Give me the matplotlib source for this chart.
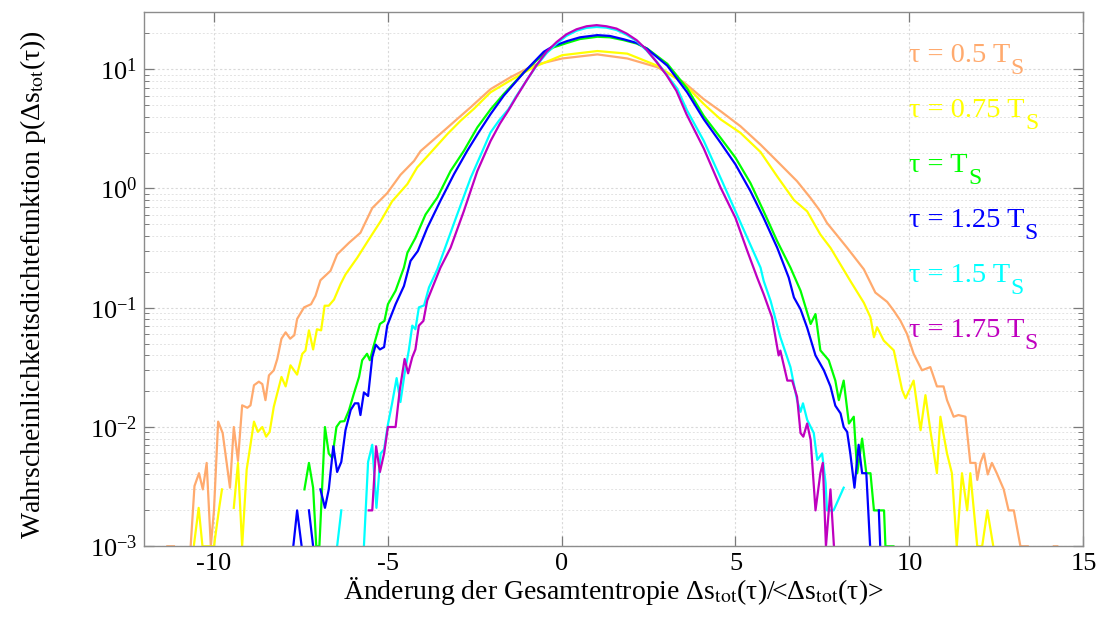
import numpy as np
import matplotlib
matplotlib.use("Agg")
import matplotlib.pyplot as plt
from matplotlib.ticker import LogLocator, NullLocator, FixedLocator
from matplotlib.transforms import blended_transform_factory

plt.rcParams['font.family'] = ['Liberation Serif', 'DejaVu Serif']
plt.rcParams['mathtext.fontset'] = 'stix'
plt.rcParams['axes.unicode_minus'] = False

nan = np.nan

# (normalised entropy change, probability density); nan marks empty bins
tau_050 = [(-11.33, 0.001), (-11.14, 0.001), (-10.9, nan), (-10.66, 0.001), (-10.55, 0.0032),
           (-10.42, 0.0041), (-10.31, 0.0030), (-10.20, 0.0050), (-10.08, 0.001), (-9.99, 0.0020),
           (-9.87, 0.0111), (-9.74, 0.0089), (-9.53, 0.0031), (-9.42, 0.010), (-9.30, 0.0052),
           (-9.18, 0.0152), (-9.03, 0.0145), (-8.94, 0.0152), (-8.84, 0.0224), (-8.70, 0.024),
           (-8.60, 0.0229), (-8.51, 0.0168), (-8.41, 0.0271), (-8.27, 0.0299), (-8.17, 0.0372),
           (-8.05, 0.055), (-7.93, 0.0622), (-7.80, 0.055), (-7.68, 0.0589), (-7.60, 0.0805),
           (-7.40, 0.1007), (-7.20, 0.107), (-7.07, 0.126), (-6.93, 0.17), (-6.64, 0.204),
           (-6.45, 0.28), (-6.11, 0.35), (-5.78, 0.425), (-5.44, 0.685), (-5.01, 0.914),
           (-4.63, 1.30), (-4.24, 1.70), (-4.05, 2.06), (-3.38, 3.05), (-3.00, 3.82),
           (-2.61, 4.8), (-2.04, 6.8), (-1.47, 8.55), (-0.80, 10.8), (0.02, 12.3),
           (1.03, 13.3), (1.89, 12.3), (2.75, 10.4), (3.51, 7.8), (4.09, 5.6),
           (4.57, 4.45), (5.14, 3.33), (5.72, 2.33), (6.20, 1.69), (6.77, 1.15),
           (7.16, 0.83), (7.44, 0.643), (7.63, 0.514), (8.21, 0.318), (8.69, 0.21),
           (9.02, 0.134), (9.36, 0.112), (9.55, 0.0944), (9.74, 0.078), (9.93, 0.0603),
           (10.12, 0.0411), (10.36, 0.0299), (10.60, 0.0318), (10.79, 0.0219), (10.98, 0.0219),
           (11.08, 0.0168), (11.27, 0.0122), (11.41, 0.0126), (11.61, 0.0122), (11.75, 0.0050),
           (11.90, 0.0050), (11.95, 0.0036), (12.04, 0.0050), (12.14, 0.0060), (12.25, 0.0040),
           (12.37, 0.0050), (12.51, 0.0041), (12.71, 0.0030), (12.85, 0.0020), (13.00, 0.0020),
           (13.19, 0.001), (13.40, 0.001), (13.8, nan), (14.15, 0.001), (14.25, 0.001)]

tau_075 = [(-10.57, 0.001), (-10.43, 0.0021), (-10.32, 0.001), (-10.15, 0.001), (-9.99, 0.001),
           (-9.84, 0.0021), (-9.76, 0.0030), (-9.6, nan), (-9.42, 0.0021), (-9.30, 0.0050),
           (-9.18, 0.001), (-9.05, 0.0044), (-8.96, 0.0065), (-8.84, 0.0111), (-8.73, 0.0091),
           (-8.60, 0.010), (-8.49, 0.0083), (-8.39, 0.0091), (-8.27, 0.0148), (-8.05, 0.0263),
           (-7.93, 0.0219), (-7.79, 0.0329), (-7.60, 0.0275), (-7.45, 0.0411), (-7.36, 0.0437),
           (-7.26, 0.0646), (-7.14, 0.0447), (-7.03, 0.066), (-6.91, 0.0646), (-6.81, 0.104),
           (-6.69, 0.104), (-6.54, 0.117), (-6.35, 0.158), (-6.21, 0.19), (-5.87, 0.263),
           (-5.54, 0.373), (-5.20, 0.531), (-4.87, 0.78), (-4.43, 1.09), (-4.15, 1.50),
           (-3.76, 2.0), (-3.28, 2.86), (-2.90, 3.70), (-2.52, 4.65), (-2.04, 6.4),
           (-1.47, 8.05), (-0.80, 10.4), (0.02, 13.1), (1.03, 14.2), (1.89, 13.5),
           (2.75, 10.7), (3.51, 7.6), (4.09, 5.1), (4.57, 3.8), (5.14, 2.93),
           (5.72, 2.02), (6.20, 1.26), (6.68, 0.80), (7.06, 0.643), (7.44, 0.411),
           (7.73, 0.318), (8.30, 0.168), (8.69, 0.11), (8.88, 0.083), (8.98, 0.0566),
           (9.07, 0.0686), (9.26, 0.0531), (9.55, 0.0439), (9.79, 0.0204), (9.89, 0.0174),
           (10.12, 0.0245), (10.32, 0.0094), (10.46, 0.0185), (10.60, 0.0094), (10.79, 0.0041),
           (10.89, 0.0122), (11.08, 0.0060), (11.22, 0.0041), (11.36, 0.001), (11.51, 0.0041),
           (11.66, 0.0020), (11.75, 0.0041), (11.95, 0.001), (12.09, 0.001), (12.24, 0.0020),
           (12.41, 0.001)]

tau_100 = [(-7.39, 0.0030), (-7.26, 0.0050), (-7.14, 0.0031), (-7.05, 0.001), (-6.96, 0.001),
           (-6.80, 0.010), (-6.69, 0.0060), (-6.59, 0.0055), (-6.47, 0.010), (-6.36, 0.0111),
           (-6.24, 0.0112), (-6.11, 0.0138), (-5.97, 0.019), (-5.82, 0.0263), (-5.73, 0.0363),
           (-5.59, 0.0411), (-5.51, 0.0363), (-5.41, 0.0468), (-5.22, 0.0731), (-5.09, 0.0776),
           (-4.99, 0.107), (-4.77, 0.139), (-4.53, 0.217), (-4.43, 0.289), (-4.20, 0.385),
           (-3.91, 0.604), (-3.57, 0.84), (-3.19, 1.40), (-2.81, 2.06), (-2.42, 3.25),
           (-2.04, 4.6), (-1.66, 6.2), (-1.08, 9.4), (-0.51, 13.5), (-0.24, 15.2),
           (0.16, 16.6), (0.53, 17.9), (1.03, 18.7), (1.39, 18.5), (1.79, 17.5),
           (2.16, 16.4), (2.46, 14.9), (3.04, 11.1), (3.61, 6.9), (4.09, 4.05),
           (4.57, 2.66), (5.00, 1.81), (5.43, 1.11), (5.81, 0.643), (6.20, 0.361),
           (6.58, 0.217), (6.87, 0.139), (6.96, 0.114), (7.16, 0.0731), (7.30, 0.0885),
           (7.44, 0.0439), (7.68, 0.0363), (7.87, 0.0245), (7.97, 0.0168), (8.11, 0.0245),
           (8.26, 0.0107), (8.40, 0.0122), (8.50, 0.0041), (8.64, 0.0080), (8.76, 0.0041),
           (8.88, 0.0041), (8.98, 0.0020), (9.27, 0.0020), (9.31, 0.001), (9.54, 0.001)]

tau_125 = [(-7.71, 0.001), (-7.60, 0.0020), (-7.47, 0.001), (-7.36, nan), (-7.26, 0.0020),
           (-7.14, 0.001), (-7.03, nan), (-6.93, 0.0030), (-6.80, 0.0021), (-6.69, 0.0030),
           (-6.56, 0.0069), (-6.45, 0.0042), (-6.33, 0.0051), (-6.21, 0.0094), (-6.06, 0.0139),
           (-5.94, 0.0158), (-5.84, 0.0158), (-5.78, 0.0126), (-5.68, 0.0195), (-5.56, 0.0182),
           (-5.44, 0.0385), (-5.34, 0.049), (-5.22, 0.0447), (-5.10, 0.0468), (-5.01, 0.0708),
           (-4.77, 0.107), (-4.53, 0.152), (-4.34, 0.247), (-4.13, 0.299), (-3.86, 0.467),
           (-3.48, 0.79), (-3.09, 1.32), (-2.71, 2.07), (-2.38, 2.96), (-2.04, 4.2),
           (-1.66, 6.0), (-1.08, 9.4), (-0.51, 14.0), (-0.24, 15.6), (0.16, 17.2),
           (0.53, 18.5), (1.03, 19.3), (1.39, 19.0), (1.79, 17.8), (2.16, 16.6),
           (2.46, 14.8), (3.04, 10.7), (3.61, 6.4), (4.09, 3.80), (4.57, 2.42),
           (5.00, 1.59), (5.43, 0.95), (5.81, 0.566), (6.20, 0.318), (6.53, 0.179),
           (6.68, 0.122), (6.87, 0.097), (7.06, 0.068), (7.30, 0.0398), (7.54, 0.0299),
           (7.73, 0.0219), (7.87, 0.0151), (8.02, 0.0130), (8.11, 0.010), (8.21, 0.0091),
           (8.30, 0.0060), (8.42, 0.0031), (8.54, 0.0071), (8.64, 0.0041), (8.76, 0.0041),
           (8.87, 0.001), (9.0, nan), (9.12, 0.0020), (9.16, 0.001)]

tau_150 = [(-6.45, 0.001), (-6.33, 0.0020), (-6.0, nan), (-5.68, 0.001), (-5.56, 0.0051),
           (-5.44, 0.0071), (-5.32, 0.0021), (-5.20, 0.0060), (-5.10, 0.0065), (-4.99, 0.0105),
           (-4.87, 0.0158), (-4.74, 0.0257), (-4.63, 0.0162), (-4.51, 0.0282), (-4.39, 0.0439),
           (-4.29, 0.0708), (-4.20, 0.066), (-4.10, 0.1007), (-3.95, 0.1047), (-3.81, 0.148),
           (-3.57, 0.21), (-3.38, 0.299), (-3.00, 0.604), (-2.61, 1.23), (-2.23, 2.2),
           (-2.04, 2.95), (-1.80, 3.7), (-1.53, 4.6), (-1.29, 6.0), (-1.01, 8.0),
           (-0.72, 10.7), (-0.43, 13.6), (-0.14, 16.4), (0.14, 19.0), (0.43, 21.0),
           (0.72, 22.2), (1.01, 22.6), (1.29, 22.3), (1.58, 21.3), (1.87, 19.4),
           (2.16, 17.2), (2.44, 14.4), (2.73, 11.6), (3.02, 9.0), (3.32, 6.9),
           (3.61, 4.5), (4.09, 2.5), (4.57, 1.23), (5.00, 0.643), (5.34, 0.385),
           (5.72, 0.217), (5.81, 0.168), (6.01, 0.114), (6.29, 0.0566), (6.58, 0.0318),
           (6.77, 0.0168), (6.87, 0.0134), (6.94, 0.0158), (7.06, 0.0115), (7.25, 0.0089),
           (7.35, 0.0053), (7.49, 0.0060), (7.59, 0.0034), (7.63, 0.0020), (7.82, 0.0020),
           (8.11, 0.0031)]

tau_175 = [(-5.54, 0.0020), (-5.44, 0.0020), (-5.33, 0.0069), (-5.22, 0.0042), (-5.10, 0.0060),
           (-4.99, 0.010), (-4.77, 0.010), (-4.65, 0.0204), (-4.51, 0.0372), (-4.41, 0.0282),
           (-4.29, 0.0385), (-4.20, 0.0447), (-4.10, 0.0708), (-3.97, 0.0776), (-3.86, 0.115),
           (-3.67, 0.158), (-3.48, 0.217), (-3.19, 0.318), (-2.81, 0.643), (-2.42, 1.40),
           (-2.04, 2.5), (-1.77, 3.5), (-1.53, 4.5), (-1.29, 5.9), (-1.01, 8.0),
           (-0.72, 10.8), (-0.43, 14.0), (-0.14, 16.9), (0.14, 19.6), (0.43, 21.6),
           (0.72, 22.9), (1.01, 23.4), (1.29, 22.9), (1.58, 21.9), (1.87, 19.9),
           (2.16, 17.5), (2.44, 14.6), (2.73, 11.5), (3.02, 8.9), (3.30, 6.6),
           (3.59, 4.2), (4.09, 2.16), (4.57, 1.02), (5.00, 0.566), (5.34, 0.299),
           (5.62, 0.18), (5.81, 0.130), (6.05, 0.083), (6.24, 0.0398), (6.29, 0.0437),
           (6.49, 0.0245), (6.63, 0.0245), (6.77, 0.0179), (6.87, 0.0089), (6.95, 0.0083),
           (7.06, 0.0107), (7.16, 0.0078), (7.30, 0.0020), (7.44, 0.0041), (7.51, 0.0050),
           (7.60, 0.001), (7.73, 0.0030), (7.83, 0.001)]

curves = [tau_050, tau_075, tau_100, tau_125, tau_150, tau_175]
labels = ['τ = 0.5 T', 'τ = 0.75 T', 'τ = T', 'τ = 1.25 T', 'τ = 1.5 T', 'τ = 1.75 T']
colors = ['#FFAA6E', '#FFFF00', '#00FF00', '#0000FF', '#00FFFF', '#BF00BF']

x_ticks = [-10, -5, 0, 5, 10, 15]

fig = plt.figure(figsize=(10.97, 6.17), dpi=100)
ax = fig.add_axes([0.1313, 0.1146, 0.8563, 0.8655])

for data, col in zip(curves, colors):
    x, p = zip(*data)
    ax.plot(x, p, color=col, lw=1.6, solid_joinstyle='round')

ax.set_yscale('log')
ax.set_xlim(-12, 15)
ax.set_ylim(1e-3, 30)
ax.xaxis.set_major_locator(FixedLocator(x_ticks))
ax.xaxis.set_minor_locator(NullLocator())
ax.yaxis.set_major_locator(LogLocator(base=10, numticks=12))
ax.yaxis.set_minor_locator(LogLocator(base=10, subs=np.arange(2, 10), numticks=12))

ax.grid(which='major', color='#d9d9d9', ls=(0, (2, 2)), lw=0.8)
ax.grid(which='minor', axis='y', color='#e3e3e3', ls=(0, (2, 2)), lw=0.7)
ax.set_axisbelow(True)

for s in ax.spines.values():
    s.set_color('#8c8c8c')
    s.set_linewidth(1.0)
ax.tick_params(which='both', direction='in', top=True, right=True,
               color='#7a7a7a', labelcolor='black', labelsize=19)
ax.tick_params(which='major', length=7, width=0.9, pad=5)
ax.tick_params(which='minor', length=3.6, width=0.7)

ax.set_xlabel('Änderung der Gesamtentropie Δs$_{\\mathrm{tot}}$(τ)/<Δs$_{\\mathrm{tot}}$(τ)>',
              fontsize=20, labelpad=0)
ax.set_ylabel('Wahrscheinlichkeitsdichtefunktion p(Δs$_{\\mathrm{tot}}$(τ))', fontsize=20)
ax.yaxis.set_label_coords(-0.102, 0.49)

# coloured series labels with a large subscript S
trans = blended_transform_factory(ax.transData, ax.transAxes)
for i, (lab, col) in enumerate(zip(labels, colors)):
    t = ax.text(10.0, 0.9075 - i * 0.103, lab, transform=trans, color=col,
                fontsize=20.5, ha='left', va='baseline')
    ax.annotate('S', xy=(1, 0), xycoords=t, xytext=(0, -4.7), textcoords='offset points',
                color=col, fontsize=17, ha='left', va='baseline')

fig.savefig('out.png', dpi=100)
